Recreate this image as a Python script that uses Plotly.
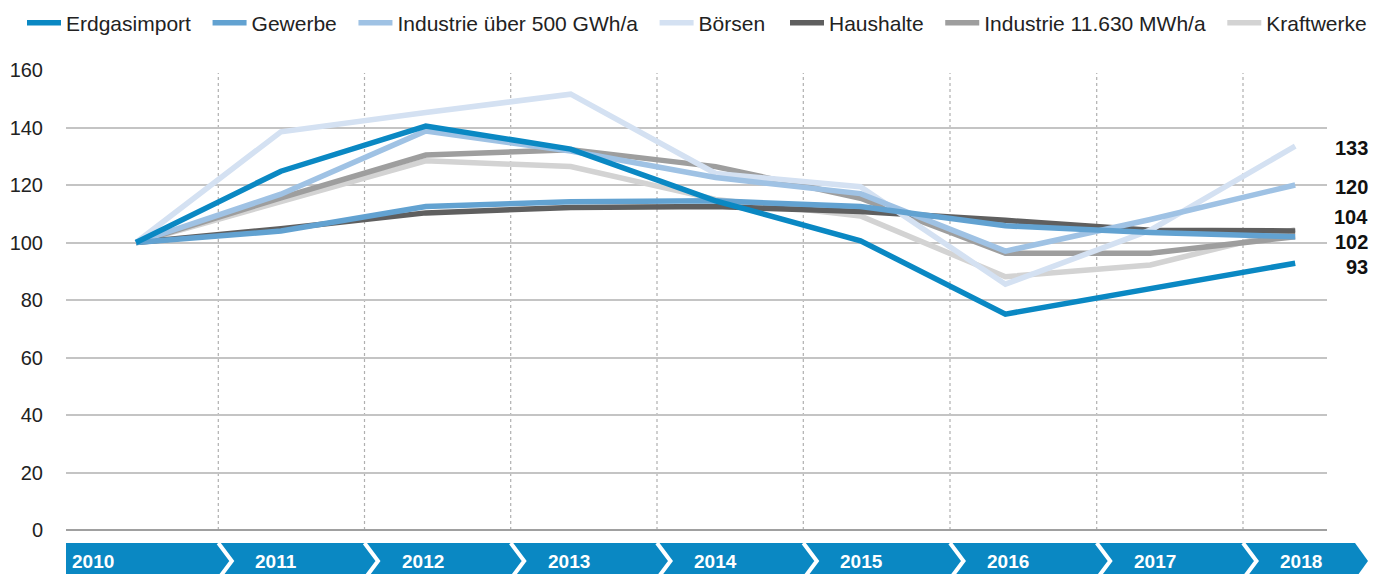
import plotly.graph_objects as go

# ---------------- data ----------------
years = ["2010", "2011", "2012", "2013", "2014", "2015", "2016", "2017", "2018"]
series_names = ["Erdgasimport", "Gewerbe", "Industrie über 500 GWh/a", "Börsen",
                "Haushalte", "Industrie 11.630 MWh/a", "Kraftwerke"]
erdgasimport = [100, 124.8, 140.5, 132.5, 114.5, 100.6, 75.1, 84.0, 92.8]
gewerbe = [100, 104.0, 112.5, 114.2, 114.5, 112.5, 105.8, 103.5, 102.0]
industrie_500 = [100, 116.8, 138.8, 131.8, 122.6, 117.0, 97.0, 108.0, 120.0]
boersen = [100, 138.5, 145.2, 151.6, 124.0, 119.4, 85.5, 104.3, 133.5]
haushalte = [100, 104.8, 110.3, 112.2, 112.5, 110.8, 107.7, 104.3, 104.0]
industrie_11630 = [100, 115.5, 130.4, 132.3, 126.4, 115.4, 96.3, 96.3, 102.0]
kraftwerke = [100, 114.0, 128.4, 126.4, 115.0, 109.2, 88.1, 92.2, 104.5]
end_labels = ["133", "120", "104", "102", "93"]
y_ticks = [0, 20, 40, 60, 80, 100, 120, 140, 160]

# ---------------- styling ----------------
colors = ["#0a88c3", "#62a2d1", "#9fc2e4", "#d4e1f2", "#5f5f5f", "#9e9e9e", "#d3d3d3"]
values = [erdgasimport, gewerbe, industrie_500, boersen, haushalte, industrie_11630, kraftwerke]
legend_ids = ["legend", "legend", "legend", "legend", "legend2", "legend2", "legend2"]
FONT = "Liberation Sans, Arial, sans-serif"
W, H = 1373, 574
L, R, T, B = 66, 46, 70, 44
PW = W - L - R
PH = H - T - B
# extra spacing after each legend entry (none after the last entry of each legend)
pads = ["\u00a0\u00a0", "\u00a0\u00a0", "\u00a0\u00a0", "", "\u00a0\u00a0", "\u00a0\u00a0", ""]


def px(xp):
    return (xp - L) / PW


def py(yp):
    return (H - B - yp) / PH


x_idx = list(range(len(years)))

fig = go.Figure()
# draw in reverse so the first series lies on top; legend order kept via traceorder
for name, vals, col, lg, pad in reversed(list(zip(series_names, values, colors, legend_ids, pads))):
    fig.add_trace(go.Scatter(
        x=x_idx, y=vals, name=name + pad, mode="lines", legend=lg,
        line=dict(color=col, width=5.5),
        hovertemplate=name + ": %{y}<extra></extra>",
    ))

shapes = []
# dotted separators / band boundaries (pixel positions of the category boundaries)
boundaries_px = [218.3, 364.5, 510.7, 657.0, 803.3, 950.0, 1096.7, 1243.0]
for b in boundaries_px:
    shapes.append(dict(type="line", xref="paper", yref="paper",
                       x0=px(b), x1=px(b), y0=0, y1=py(73),
                       line=dict(color="#b0b0b0", width=1.2, dash="dot"),
                       layer="below"))

# bottom arrow band
band_top, band_mid, band_bot = py(543), py(561), py(579)
xl, xr, tip = px(66), px(1355), px(1368)
shapes.append(dict(type="path", xref="paper", yref="paper",
                   path=f"M {xl},{band_top} L {xr},{band_top} L {tip},{band_mid} L {xr},{band_bot} L {xl},{band_bot} Z",
                   fillcolor="#0a88c3", line=dict(width=0), layer="above"))
for b in boundaries_px:
    shapes.append(dict(type="path", xref="paper", yref="paper",
                       path=f"M {px(b)},{band_top} L {px(b + 13.5)},{band_mid} L {px(b)},{band_bot}",
                       line=dict(color="white", width=4), layer="above"))

annotations = []
label_left_px = [70] + [b + 35 for b in boundaries_px]
for yr, lx in zip(years, label_left_px):
    annotations.append(dict(text=f"<b>{yr}</b>", xref="paper", yref="paper",
                            x=px(lx), y=py(561), xanchor="left", yanchor="middle",
                            showarrow=False,
                            font=dict(family=FONT, size=19, color="white")))

# end-value labels at the right
end_label_y_px = [148, 187, 216.5, 241.5, 267]
for txt, yp in zip(end_labels, end_label_y_px):
    annotations.append(dict(text=f"<b>{txt}</b>", xref="paper", yref="paper",
                            x=px(1370), y=py(yp), xanchor="right", yanchor="middle",
                            showarrow=False,
                            font=dict(family=FONT, size=20, color="#111111")))

legend_common = dict(orientation="h", xanchor="left", yanchor="middle", y=py(23),
                     traceorder="reversed", itemwidth=34, bgcolor="rgba(0,0,0,0)",
                     font=dict(family=FONT, size=21, color="#222222"))

fig.update_layout(
    width=W, height=H,
    margin=dict(l=L, r=R, t=T, b=B, pad=0, autoexpand=False),
    paper_bgcolor="white", plot_bgcolor="white",
    font=dict(family=FONT, size=20, color="#222222"),
    showlegend=True,
    legend=dict(x=px(22), **legend_common),
    legend2=dict(x=px(785), **legend_common),
    xaxis=dict(range=[(66 - 136) / 144.9, (1327 - 136) / 144.9],
               showgrid=False, zeroline=False, showticklabels=False, showline=False,
               fixedrange=True),
    yaxis=dict(range=[0, 160], tickvals=y_ticks, ticktext=[str(v) for v in y_ticks],
               showgrid=True, gridcolor="#c4c4c4", gridwidth=1.5,
               zeroline=True, zerolinecolor="#a0a0a0", zerolinewidth=2,
               showline=False, ticks="", ticklabelstandoff=22,
               tickfont=dict(family=FONT, size=20, color="#222222"), fixedrange=True),
    shapes=shapes,
    annotations=annotations,
)

fig.write_html(
    "out.html",
    config={"displayModeBar": False},
    post_script="document.body.style.margin='0';document.body.style.overflow='hidden';",
)
